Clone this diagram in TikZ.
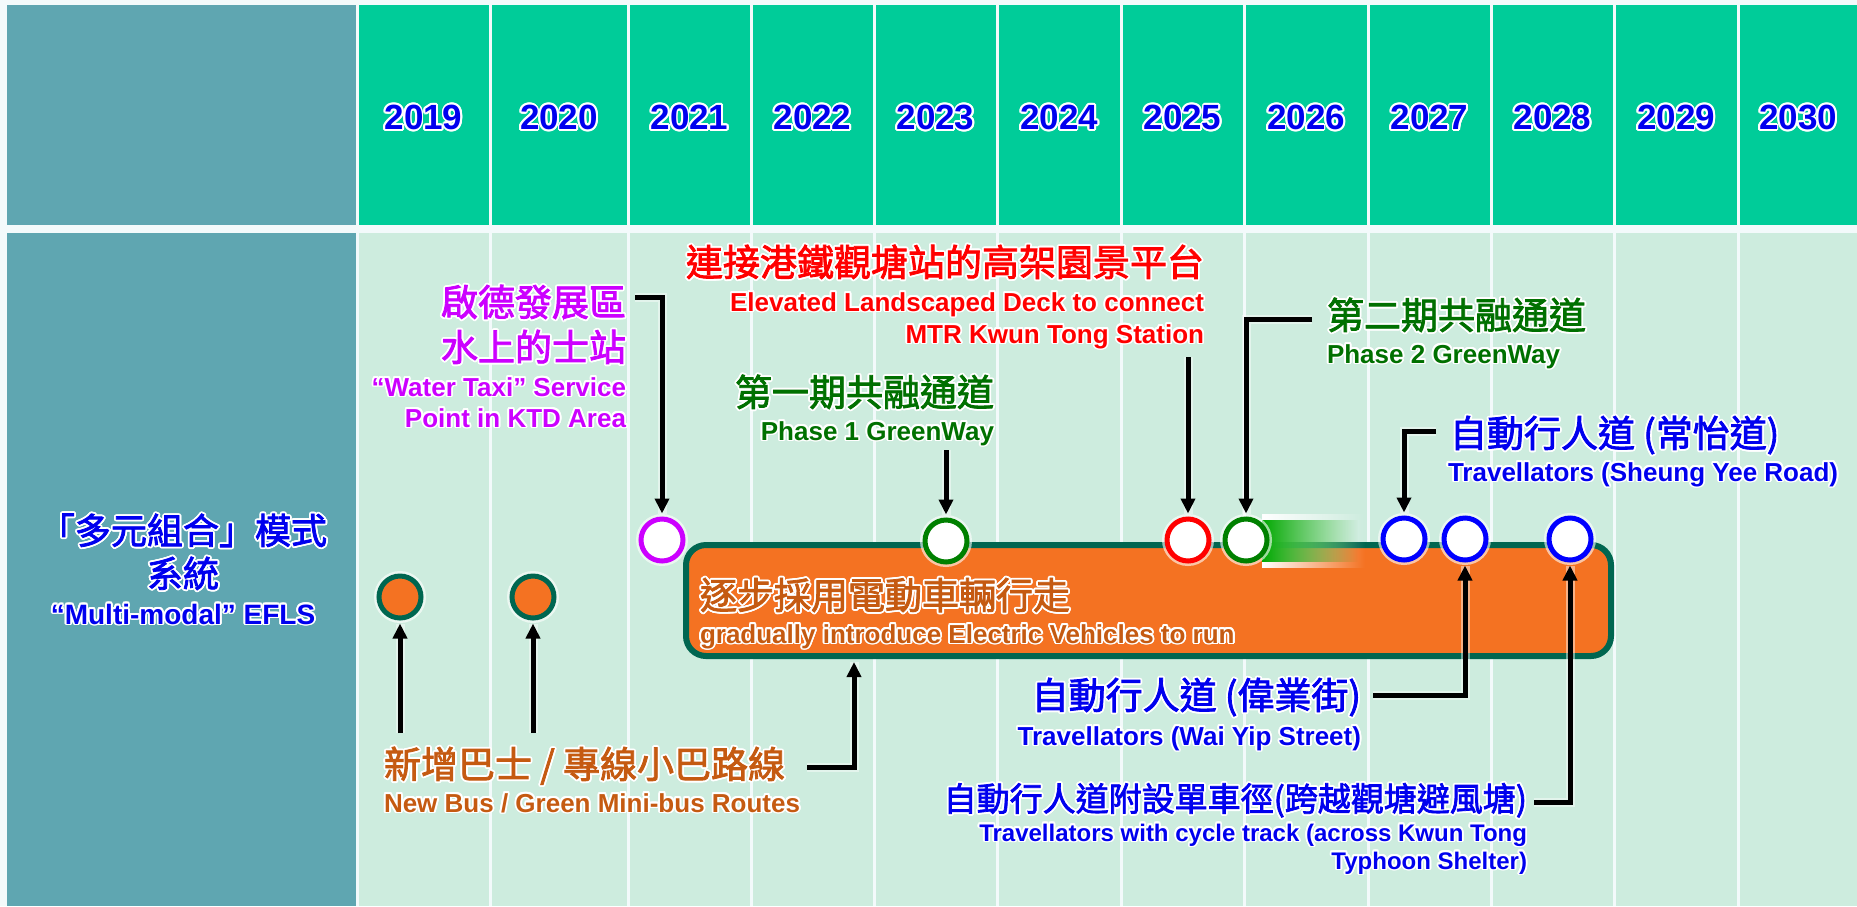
\documentclass[tikz,border=0pt]{standalone}
\usepackage{fontspec}
\setmainfont{Liberation Sans}
\newfontfamily\cjk{Noto Sans CJK TC}[FakeBold=2.2]
\usepackage{contour}
\contourlength{1.8pt}
\usetikzlibrary{arrows.meta,fadings}
\definecolor{bgc}{HTML}{F3FAFB}
\definecolor{tealc}{HTML}{5FA6B1}
\definecolor{hdrc}{HTML}{00CC99}
\definecolor{bodyc}{HTML}{CDECDE}
\definecolor{orangeF}{HTML}{F47222}
\definecolor{boxb}{HTML}{006650}
\definecolor{orangeT}{HTML}{C55A11}
\definecolor{blueT}{HTML}{0000EE}
\definecolor{purpleT}{HTML}{CC00FF}
\definecolor{redT}{HTML}{FF0000}
\definecolor{greenT}{HTML}{007000}
\definecolor{greenC}{HTML}{008000}
\definecolor{barG}{HTML}{00A800}
\newcommand{\glowtxt}[1]{\contour{white}{#1}}
\tikzfading[name=fadeR, left color=transparent!0, middle color=transparent!15, right color=transparent!100]
\tikzset{
  lab/.style={inner sep=0pt, outer sep=0pt},
  cjkbig/.style={lab, font=\cjk\fontsize{37}{40}\selectfont},
  cjkmid/.style={lab, font=\cjk\fontsize{33}{36}\selectfont},
  latbig/.style={lab, font=\bfseries\fontsize{28}{30}\selectfont},
  latmid/.style={lab, font=\bfseries\fontsize{26}{28}\selectfont},
  latsml/.style={lab, font=\bfseries\fontsize{24}{26}\selectfont},
  yearlab/.style={lab, anchor=base, text=blueT, font=\bfseries\fontsize{35}{38}\selectfont},
  circ/.style={circle, minimum size=42pt, inner sep=0pt, line width=5pt, fill=white,
    preaction={draw=white, line width=10pt, opacity=.6}},
  arr/.style={line width=5pt, -{Triangle[length=15pt,width=14pt]}, shorten >=3pt,
    preaction={draw=white, line width=9pt, opacity=.45, -}},
}
\begin{document}
\begin{tikzpicture}[x=1pt,y=-1pt]
\useasboundingbox (0,0) rectangle (1857,906);
\fill[bgc] (0,0) rectangle (1857,906);
% cells
\fill[tealc] (7,5) rectangle (355.5,225);
\fill[tealc] (7,233) rectangle (355.5,906);
\foreach \a/\b in {357/490,490/628,628/751,751/874,874/997,997/1121,1121/1244,1244/1368,1368/1491,1491/1614,1614/1738,1738/1862}{
  \fill[hdrc] (\a+1.5,5) rectangle (\b-1.5,225);
  \fill[bodyc] (\a+1.5,233) rectangle (\b-1.5,906);
}
% years
\foreach \x/\yr [count=\i] in {423.5/2019,559/2020,689.5/2021,812.5/2022,935.5/2023,1059/2024,1182.5/2025,1306/2026,1429.5/2027,1552.5/2028,1676/2029,1798/2030}{
  \node[yearlab] (yr\i) at (\x,129.5) {\glowtxt{\yr}};
}
% title
\node[cjkbig, anchor=base, text=blueT, font=\cjk\fontsize{36}{38}\selectfont] (tt1) at (183,544) {\glowtxt{「多元組合」模式}};
\node[cjkbig, anchor=base, text=blueT, font=\cjk\fontsize{36}{38}\selectfont] (tt2) at (183,587) {\glowtxt{系統}};
\node[latbig, anchor=base, text=blueT] (tt3) at (183,624) {\glowtxt{“Multi-modal” EFLS}};
% orange box
\node[draw=boxb, fill=orangeF, line width=6pt, rounded corners=20pt, minimum width=925pt, minimum height=111pt, inner sep=0pt] (box) at (1148.5,600.5) {};
\node[cjkbig, anchor=base west, text=orangeT] (bx1) at (700,609) {\glowtxt{逐步採用電動車輛行走}};
\node[latmid, anchor=base west, text=orangeT] (bx2) at (700,643) {\glowtxt{gradually introduce Electric Vehicles to run}};
% green motion bar
\fill[white, path fading=fadeR] (1262,514) rectangle (1365,568);
\fill[barG, path fading=fadeR] (1262,520) rectangle (1358,562);
% circles
\node[circ, draw=boxb, fill=orangeF] (b1) at (400,597) {};
\node[circ, draw=boxb, fill=orangeF] (b2) at (533,597) {};
\node[circ, draw=purpleT] (taxi) at (662,540) {};
\node[circ, draw=greenC] (p1) at (946,541) {};
\node[circ, draw=redT] (deck) at (1188,540) {};
\node[circ, draw=greenC] (p2) at (1246,540) {};
\node[circ, draw=blue] (sy) at (1404,539) {};
\node[circ, draw=blue] (wy) at (1465,539) {};
\node[circ, draw=blue] (cy) at (1570,539) {};
% labels
\node[cjkbig, anchor=base east, text=purpleT] (tx1) at (626,316) {\glowtxt{啟德發展區}};
\node[cjkbig, anchor=base east, text=purpleT] (tx2) at (626,361) {\glowtxt{水上的士站}};
\node[latmid, anchor=base east, text=purpleT] (tx3) at (626,396) {\glowtxt{“Water Taxi” Service}};
\node[latmid, anchor=base east, text=purpleT] (tx4) at (626,427) {\glowtxt{Point in KTD Area}};
\node[cjkbig, anchor=base east, text=redT] (rd1) at (1204,276) {\glowtxt{連接港鐵觀塘站的高架園景平台}};
\node[latmid, anchor=base east, text=redT] (rd2) at (1204,311) {\glowtxt{Elevated Landscaped Deck to connect}};
\node[latmid, anchor=base east, text=redT] (rd3) at (1204,343) {\glowtxt{MTR Kwun Tong Station}};
\node[cjkbig, anchor=base east, text=greenT] (g1a) at (994,406) {\glowtxt{第一期共融通道}};
\node[latmid, anchor=base east, text=greenT] (g1b) at (994,440) {\glowtxt{Phase 1 GreenWay}};
\node[cjkbig, anchor=base west, text=greenT] (g2a) at (1327,329) {\glowtxt{第二期共融通道}};
\node[latmid, anchor=base west, text=greenT] (g2b) at (1327,363) {\glowtxt{Phase 2 GreenWay}};
\node[cjkbig, anchor=base west, text=blueT] (s1) at (1450,447) {\glowtxt{自動行人道 (常怡道)}};
\node[latmid, anchor=base west, text=blueT] (s2) at (1448,481) {\glowtxt{Travellators (Sheung Yee Road)}};
\node[cjkbig, anchor=base east, text=blueT] (w1) at (1361,709) {\glowtxt{自動行人道 (偉業街)}};
\node[latmid, anchor=base east, text=blueT] (w2) at (1361,745) {\glowtxt{Travellators (Wai Yip Street)}};
\node[cjkmid, anchor=base east, text=blueT] (c1) at (1527,811) {\glowtxt{自動行人道附設單車徑(跨越觀塘避風塘)}};
\node[latsml, anchor=base east, text=blueT] (c2) at (1527,841) {\glowtxt{Travellators with cycle track (across Kwun Tong}};
\node[latsml, anchor=base east, text=blueT] (c3) at (1527,869) {\glowtxt{Typhoon Shelter)}};
\node[cjkbig, anchor=base west, text=orangeT] (n1) at (384,778) {\glowtxt{新增巴士 / 專線小巴路線}};
\node[latmid, anchor=base west, text=orangeT] (n2) at (384,812) {\glowtxt{New Bus / Green Mini-bus Routes}};
% arrows
\coordinate (aTx) at (635,297);
\coordinate (aP1) at (946,450);
\coordinate (aRd) at (1188,357);
\coordinate (aP2) at (1312,319);
\coordinate (aSy) at (1436,431);
\coordinate (aWy) at (1373,695);
\coordinate (aCy) at (1534,802);
\coordinate (aB1) at (400,733);
\coordinate (aB2) at (533,733);
\coordinate (aBx) at (807,767);
\draw[arr] (aTx) -| (taxi.north);
\draw[arr] (aP1) -- (p1.north);
\draw[arr] (aRd) -- (deck.north);
\draw[arr] (aP2) -| (p2.north);
\draw[arr] (aSy) -| (sy.north);
\draw[arr] (aWy) -| (wy.south);
\draw[arr] (aCy) -| (cy.south);
\draw[arr] (aB1) -- (b1.south);
\draw[arr] (aB2) -- (b2.south);
\draw[arr] (aBx) -| (854,0 |- box.south);
\end{tikzpicture}
\end{document}
